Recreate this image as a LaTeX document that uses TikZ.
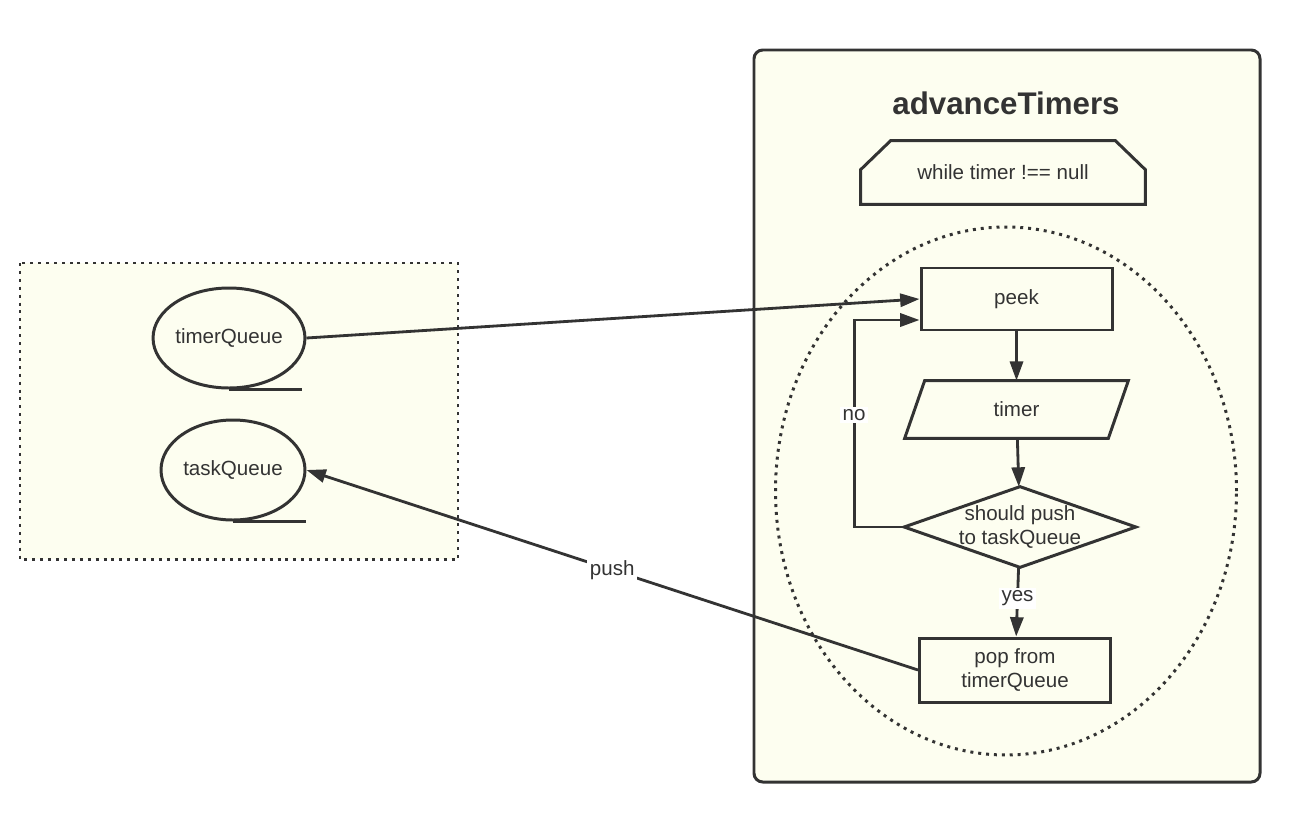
\documentclass[tikz,border=0pt]{standalone}
\usepackage{fontspec}
\setmainfont{Liberation Sans}
\usetikzlibrary{arrows.meta,shapes.geometric}
\definecolor{paper}{HTML}{FDFEF0}
\definecolor{ink}{HTML}{333333}
\begin{document}
\begin{tikzpicture}[font=\fontsize{11.7}{14}\selectfont, text=ink,
    box/.style={rectangle, draw=ink, fill=paper, line width=1.7pt, minimum width=3.82cm, minimum height=1.24cm},
    queue/.style={ellipse, draw=ink, fill=paper, line width=1.7pt, minimum width=2.88cm, minimum height=2cm, inner sep=0pt},
    outline/.style={draw=ink, line width=1.7pt, line join=miter},
    flow/.style={draw=ink, line width=1.6pt, -{Triangle[length=11pt,width=7.5pt]}},
    tag/.style={fill=white, inner sep=1.5pt},
    dots/.style={draw=ink, line width=1.7pt, dash pattern=on 1.7pt off 2.8pt}]

    \useasboundingbox (0,0) rectangle (25.88,-16.68);

    % queues
    \draw[dots, fill=paper] (0.40,-5.26) rectangle (9.16,-11.18);
    \node(tq)[queue] at (4.58,-6.76) {timerQueue};
    \draw[outline] (tq.south) -- ++(1.46,0);
    \node(kq)[queue] at (4.66,-9.40) {taskQueue};
    \draw[outline] (kq.south) -- ++(1.46,0);

    % advanceTimers
    \draw[outline, fill=paper, rounded corners=5pt] (15.08,-1.0) rectangle (25.2,-15.64);
    \node(title) at (20.12,-2.06) {\fontsize{17.8}{21}\selectfont\bfseries advanceTimers};
    \node(loop)[minimum width=5.68cm, minimum height=1.26cm] at (20.06,-3.45) {while timer !== null};
    \draw[outline] ([xshift=0.6cm]loop.north west) -- ([xshift=-0.6cm]loop.north east)
        -- ([yshift=-0.58cm]loop.north east) -- (loop.south east) -- (loop.south west)
        -- ([yshift=-0.58cm]loop.north west) -- cycle;
    \node(body)[ellipse, dots, minimum width=9.22cm, minimum height=10.56cm] at (20.12,-9.82) {};

    \node(peek)[box] at (20.33,-5.98) {peek};
    \node(timer)[minimum width=4.06cm, minimum height=1.14cm] at (20.33,-8.19) {timer};
    \draw[outline] ([xshift=0.2cm]timer.north west) -- ([xshift=0.2cm]timer.north east)
        -- ([xshift=-0.2cm]timer.south east) -- ([xshift=-0.2cm]timer.south west) -- cycle;
    \node(push)[minimum width=4.62cm, minimum height=1.6cm, inner sep=0pt, align=center] at (20.40,-10.54) {should push\\to taskQueue};
    \draw[outline] (push.north) -- (push.east) -- (push.south) -- (push.west) -- cycle;
    \node(pop)[box, minimum height=1.28cm, align=center] at (20.30,-13.40) {pop from\\timerQueue};

    \draw[flow] (tq.east) -- (peek.west);
    \draw[flow] (peek) -- (timer);
    \draw[flow] (timer) -- (push);
    \draw[flow] (push) -- node[tag, pos=0.45]{yes} (pop);
    \draw[flow] (push.west) -- ++(-1.0,0) |- node[tag, pos=0.27]{no} ([yshift=-0.42cm]peek.west);
    \draw[flow] (pop.west) -- node[tag]{push} (kq.east);

\end{tikzpicture}
\end{document}
